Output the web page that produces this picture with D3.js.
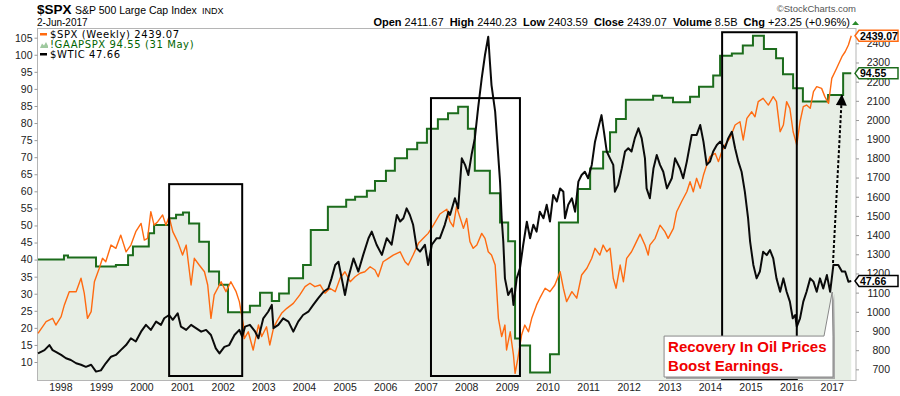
<!DOCTYPE html>
<html><head><meta charset="utf-8">
<script src="https://cdn.jsdelivr.net/npm/d3@7"></script>
<style>
body{margin:0;background:#fff;}
svg{display:block;}
</style></head><body>
<svg id="c" width="900" height="396" font-family="'Liberation Sans',Arial,sans-serif"></svg>
<script>
// ---------------- DATA ----------------
const yearTicks = [1998,1999,2000,2001,2002,2003,2004,2005,2006,2007,2008,2009,2010,2011,2012,2013,2014,2015,2016,2017];
const leftTicks = [10,15,20,25,30,35,40,45,50,55,60,65,70,75,80,85,90,95,100,105];
const rightTicks = [700,800,900,1000,1100,1200,1300,1400,1500,1600,1700,1800,1900,2000,2100,2200,2300,2400];

// $SPX weekly close (right axis)
const spx = [[1997.45,888],[1997.65,949],[1997.81,966],[1997.89,931],[1998.02,975],[1998.10,1036],[1998.22,1105],[1998.39,1105],[1998.51,1175],[1998.59,1097],[1998.67,966],[1998.76,1001],[1998.84,1157],[1998.96,1227],[1999.04,1279],[1999.12,1261],[1999.25,1348],[1999.37,1331],[1999.49,1400],[1999.62,1313],[1999.74,1348],[1999.86,1418],[1999.99,1461],[2000.07,1374],[2000.15,1383],[2000.23,1522],[2000.31,1452],[2000.40,1470],[2000.52,1505],[2000.60,1452],[2000.68,1496],[2000.77,1418],[2000.89,1366],[2001.01,1296],[2001.10,1348],[2001.22,1140],[2001.30,1279],[2001.42,1244],[2001.55,1209],[2001.63,1140],[2001.71,966],[2001.79,1088],[2001.96,1157],[2002.08,1105],[2002.20,1157],[2002.33,1105],[2002.41,1053],[2002.51,931],[2002.53,860],[2002.63,896],[2002.75,801],[2002.88,931],[2002.96,871],[2003.08,922],[2003.16,827],[2003.25,914],[2003.33,949],[2003.45,992],[2003.58,1018],[2003.74,1044],[2003.90,1088],[2004.03,1131],[2004.15,1149],[2004.27,1131],[2004.40,1140],[2004.52,1097],[2004.64,1123],[2004.77,1105],[2004.89,1175],[2005.01,1209],[2005.14,1157],[2005.26,1183],[2005.38,1201],[2005.50,1209],[2005.63,1235],[2005.75,1218],[2005.83,1183],[2005.95,1261],[2006.08,1279],[2006.20,1296],[2006.37,1313],[2006.49,1261],[2006.57,1244],[2006.69,1296],[2006.82,1357],[2006.94,1383],[2007.06,1409],[2007.19,1452],[2007.35,1510],[2007.52,1535],[2007.60,1470],[2007.68,1444],[2007.76,1548],[2007.84,1496],[2007.93,1435],[2008.01,1487],[2008.09,1366],[2008.17,1331],[2008.26,1348],[2008.38,1409],[2008.46,1383],[2008.54,1313],[2008.62,1296],[2008.71,1244],[2008.79,966],[2008.87,871],[2008.95,931],[2008.99,801],[2009.08,896],[2009.16,775],[2009.20,679],[2009.27,758],[2009.36,879],[2009.44,931],[2009.53,896],[2009.61,966],[2009.73,1036],[2009.81,1071],[2009.94,1123],[2010.06,1105],[2010.18,1140],[2010.31,1209],[2010.39,1123],[2010.47,1053],[2010.60,1105],[2010.72,1071],[2010.84,1192],[2010.97,1227],[2011.09,1279],[2011.17,1331],[2011.29,1296],[2011.37,1348],[2011.46,1313],[2011.54,1331],[2011.62,1175],[2011.69,1123],[2011.79,1244],[2011.87,1157],[2011.95,1279],[2012.07,1313],[2012.15,1348],[2012.28,1405],[2012.40,1348],[2012.48,1296],[2012.52,1348],[2012.65,1383],[2012.77,1452],[2012.89,1418],[2012.97,1383],[2013.10,1435],[2013.18,1522],[2013.30,1574],[2013.43,1626],[2013.51,1678],[2013.59,1626],[2013.67,1696],[2013.76,1644],[2013.84,1713],[2013.92,1765],[2014.00,1809],[2014.13,1826],[2014.21,1783],[2014.29,1835],[2014.37,1870],[2014.49,1904],[2014.62,1974],[2014.74,1991],[2014.82,1896],[2014.91,2009],[2015.03,2043],[2015.11,2017],[2015.19,2096],[2015.31,2113],[2015.44,2078],[2015.56,2122],[2015.64,2096],[2015.73,1939],[2015.81,1974],[2015.89,2096],[2015.97,2061],[2016.05,1939],[2016.14,1870],[2016.22,1991],[2016.30,2070],[2016.38,2078],[2016.47,2061],[2016.55,2148],[2016.63,2174],[2016.75,2165],[2016.83,2122],[2016.92,2087],[2017.00,2217],[2017.12,2270],[2017.25,2330],[2017.33,2356],[2017.41,2391],[2017.48,2439.07]];

// !GAAPSPX trailing EPS (left axis, step)
const gaap = [[1997.45,40.0],[1998.09,41.2],[1998.19,40.6],[1998.88,38.0],[1999.37,38.4],[1999.67,41.3],[1999.79,43.8],[2000.18,47.7],[2000.31,50.1],[2000.68,52.1],[2000.85,53.1],[2001.02,53.8],[2001.17,50.6],[2001.42,45.2],[2001.66,36.5],[2001.91,32.6],[2002.13,24.6],[2002.67,26.5],[2002.92,30.3],[2003.21,27.9],[2003.39,30.1],[2003.63,34.5],[2003.98,38.4],[2004.17,48.7],[2004.59,55.5],[2005.04,57.5],[2005.26,58.4],[2005.55,60.2],[2005.75,63.0],[2006.02,66.0],[2006.24,69.7],[2006.54,72.3],[2006.79,74.2],[2007.03,78.3],[2007.30,81.1],[2007.55,82.9],[2007.80,84.8],[2008.04,78.3],[2008.21,66.0],[2008.58,59.4],[2008.83,50.9],[2009.03,45.4],[2009.20,16.9],[2009.32,14.8],[2009.57,6.9],[2010.06,12.3],[2010.28,50.9],[2010.75,60.7],[2011.05,66.7],[2011.37,71.6],[2011.54,77.3],[2011.69,81.2],[2011.93,86.8],[2012.60,88.0],[2012.82,87.4],[2013.09,86.1],[2013.51,87.7],[2013.73,90.6],[2014.08,93.9],[2014.25,99.7],[2014.54,100.4],[2014.81,102.7],[2015.06,105.6],[2015.33,101.7],[2015.63,99.0],[2015.80,94.3],[2016.05,90.2],[2016.29,86.3],[2016.91,88.2],[2017.28,94.55],[2017.48,94.55]];

// $WTIC crude oil (own hidden scale)
const wtic = [[1997.45,19.0],[1997.61,20.3],[1997.73,22.3],[1997.81,20.3],[1997.89,19.6],[1998.02,18.4],[1998.14,17.1],[1998.26,16.4],[1998.39,15.1],[1998.51,14.5],[1998.63,13.7],[1998.76,14.5],[1998.88,11.8],[1999.00,12.3],[1999.12,15.1],[1999.25,17.7],[1999.37,18.4],[1999.49,20.3],[1999.62,22.3],[1999.74,25.0],[1999.86,23.7],[1999.99,27.6],[2000.11,30.3],[2000.23,28.3],[2000.36,31.6],[2000.48,30.3],[2000.56,32.9],[2000.68,34.2],[2000.77,32.3],[2000.89,34.9],[2000.97,29.6],[2001.10,28.3],[2001.22,30.3],[2001.34,29.0],[2001.47,27.6],[2001.59,28.3],[2001.71,26.3],[2001.83,21.0],[2001.92,19.0],[2002.04,21.6],[2002.16,22.3],[2002.29,26.3],[2002.41,28.3],[2002.48,25.6],[2002.55,29.6],[2002.67,30.3],[2002.80,27.6],[2002.88,25.0],[2003.00,32.9],[2003.12,35.5],[2003.21,38.2],[2003.25,29.0],[2003.37,30.3],[2003.49,32.9],[2003.62,31.6],[2003.74,27.6],[2003.86,31.6],[2003.98,34.2],[2004.11,35.5],[2004.23,38.2],[2004.35,40.8],[2004.48,43.4],[2004.60,44.7],[2004.68,48.7],[2004.77,54.0],[2004.85,55.3],[2004.93,48.7],[2005.01,42.1],[2005.09,48.7],[2005.22,56.6],[2005.34,51.4],[2005.46,58.0],[2005.59,64.6],[2005.67,67.2],[2005.79,62.0],[2005.92,58.0],[2006.04,64.6],[2006.16,62.0],[2006.29,73.8],[2006.37,71.2],[2006.45,72.5],[2006.53,76.4],[2006.61,73.8],[2006.69,69.9],[2006.78,60.6],[2006.86,59.3],[2006.98,62.0],[2007.06,54.0],[2007.15,62.0],[2007.27,64.6],[2007.35,64.6],[2007.47,69.9],[2007.56,75.1],[2007.60,73.8],[2007.72,80.4],[2007.80,76.4],[2007.89,96.2],[2007.97,93.6],[2008.05,89.6],[2008.13,97.6],[2008.21,104.1],[2008.29,116.0],[2008.38,127.9],[2008.46,137.1],[2008.54,144.3],[2008.58,134.5],[2008.62,125.2],[2008.71,114.7],[2008.75,105.4],[2008.83,87.0],[2008.87,72.5],[2008.91,63.2],[2008.95,48.7],[2009.03,42.1],[2009.12,44.7],[2009.16,38.2],[2009.24,48.7],[2009.32,52.7],[2009.40,61.9],[2009.49,71.1],[2009.57,64.6],[2009.65,69.9],[2009.73,67.2],[2009.81,75.1],[2009.90,72.5],[2009.98,77.8],[2010.06,71.2],[2010.14,81.7],[2010.23,79.1],[2010.31,84.3],[2010.39,83.0],[2010.43,72.5],[2010.51,77.8],[2010.60,80.4],[2010.68,75.1],[2010.76,87.0],[2010.84,89.6],[2010.92,90.9],[2011.00,88.3],[2011.09,93.6],[2011.17,102.8],[2011.25,108.1],[2011.33,113.3],[2011.39,106.8],[2011.46,98.9],[2011.54,96.2],[2011.62,93.6],[2011.66,83.0],[2011.74,85.7],[2011.83,92.3],[2011.91,98.9],[2011.99,100.2],[2012.07,98.9],[2012.15,104.1],[2012.24,108.1],[2012.32,104.1],[2012.40,96.2],[2012.44,84.3],[2012.52,80.4],[2012.61,92.3],[2012.69,97.5],[2012.77,93.6],[2012.85,90.9],[2012.94,84.3],[2013.06,88.3],[2013.14,96.2],[2013.26,92.3],[2013.34,88.3],[2013.43,94.9],[2013.55,105.4],[2013.67,105.4],[2013.76,109.4],[2013.84,102.8],[2013.92,93.6],[2014.00,94.9],[2014.08,98.9],[2014.17,101.5],[2014.25,102.8],[2014.37,100.2],[2014.45,104.1],[2014.54,106.7],[2014.62,100.2],[2014.70,94.9],[2014.78,90.9],[2014.86,83.0],[2014.94,72.5],[2014.99,63.2],[2015.07,54.0],[2015.15,48.7],[2015.23,51.4],[2015.31,59.2],[2015.40,57.9],[2015.48,59.9],[2015.56,56.6],[2015.64,48.7],[2015.73,43.4],[2015.81,48.7],[2015.89,43.4],[2015.97,39.5],[2016.04,32.9],[2016.10,34.2],[2016.14,29.6],[2016.22,32.9],[2016.30,39.5],[2016.38,43.4],[2016.47,48.7],[2016.55,47.4],[2016.63,43.4],[2016.71,48.7],[2016.79,44.7],[2016.88,50.0],[2016.96,43.4],[2017.04,54.0],[2017.16,54.0],[2017.25,51.4],[2017.33,51.4],[2017.41,47.4],[2017.48,47.66]];

// highlight boxes: [startYear, endYear, top (left axis), bottom (left axis)]
const boxes = [[2000.68,2002.48,62.1,5.9],[2007.13,2009.32,87.3,5.9],[2014.30,2016.14,106.6,5.0]];
// callout: [leftYear, rightYear, top, bottom, pointerYear, pointerValue] (left axis)
const callout = [2012.87,2017.03,17.6,5.6,2017.01,30.5];
const calloutText = ["Recovery In Oil Prices","Boost Earnings."];
// arrow: from WTIC value to EPS value
const arrowFrom = [2017.03,54.8], arrowTo = [2017.25,88.4];

const lastSpx = 2439.07, lastGaap = 94.55, lastWtic = 47.66;

// ---------------- CHART ----------------
const svg = d3.select("#c");
const X0=38, X1=856, Y0=28, Y1=380;
function yd(y){const yr=Math.floor(y);const s=Date.UTC(yr,0,1),e=Date.UTC(yr+1,0,1);return new Date(s+(y-yr)*(e-s));}
const x = d3.scaleUtc().domain([yd(1997.45), yd(2017.597)]).range([X0,X1]);
const yL = d3.scaleLinear().domain([4.73,107.84]).range([Y1,Y0]);
const yR = d3.scaleLinear().domain([644.5,2479.8]).range([Y1,Y0]);
const yW = d3.scaleLinear().domain([8.48,147.78]).range([Y1,Y0]);

const ORANGE="#ff6a10", GREEN="#1c6c1c", FILL="#e7eee5";

svg.append("rect").attr("width",900).attr("height",396).attr("fill","#fff");

// Header
const hdr = svg.append("g");
hdr.append("text").attr("x",37).attr("y",14).attr("font-size",13.5).attr("font-weight","bold").text("$SPX");
hdr.append("text").attr("x",75).attr("y",14).attr("font-size",10.5).text("S&P 500 Large Cap Index");
hdr.append("text").attr("x",202).attr("y",14).attr("font-size",9).text("INDX");
hdr.append("text").attr("x",37).attr("y",26).attr("font-size",10).text("2-Jun-2017");
hdr.append("text").attr("x",856).attr("y",12).attr("font-size",9.5).attr("fill","#555").attr("text-anchor","end").text("\u00A9StockCharts.com");
const stats = hdr.append("text").attr("x",850).attr("y",26).attr("font-size",11).attr("text-anchor","end").style("white-space","pre");
[["Open"," 2411.67  "],["High"," 2440.23  "],["Low"," 2403.59  "],["Close"," 2439.07  "],["Volume"," 8.5B  "],["Chg"," +23.25 (+0.96%)"]].forEach(([a,b])=>{
  stats.append("tspan").attr("font-weight","bold").text(a);
  stats.append("tspan").text(b);
});
hdr.append("path").attr("d","M852,25 L855.5,21 L859,25 Z").attr("fill","#2a8a2a");

// Area fill of EPS
const area = d3.area().curve(d3.curveStepAfter).x(d=>x(yd(d[0]))).y0(Y1).y1(d=>yL(d[1]));
svg.append("path").datum(gaap).attr("d",area).attr("fill",FILL);

// frame
svg.append("rect").attr("x",X0-0.5).attr("y",Y0+0.5).attr("width",X1-X0+0.5).attr("height",Y1-Y0).attr("fill","none").attr("stroke","#b5b5b5").attr("stroke-width",1);

// axes
const axL = svg.append("g").attr("transform",`translate(${X0-0.5},0)`).call(d3.axisLeft(yL).tickValues(leftTicks).tickSize(3).tickPadding(2));
const axR = svg.append("g").attr("transform",`translate(${X1},0)`).call(d3.axisRight(yR).tickValues(rightTicks).tickFormat(d3.format("d")).tickSize(3).tickPadding(2));
const axB = svg.append("g").attr("transform",`translate(0,${Y1})`).call(d3.axisBottom(x).tickValues(yearTicks.map(yd)).tickFormat(d3.utcFormat("%Y")).tickSize(0).tickPadding(4));
[axL,axR,axB].forEach(a=>{a.attr("font-family",null).attr("font-size",10.5);a.select(".domain").remove();a.selectAll("line").attr("stroke","#999");a.selectAll("text").attr("fill","#222");});
axR.selectAll("text").attr("text-anchor","end").attr("x",34);

// lines
const line = (ys)=>d3.line().x(d=>x(yd(d[0]))).y(d=>ys(d[1]));
svg.append("path").datum(gaap).attr("d",d3.line().curve(d3.curveStepAfter).x(d=>x(yd(d[0]))).y(d=>yL(d[1]))).attr("fill","none").attr("stroke",GREEN).attr("stroke-width",2);
svg.append("path").datum(spx).attr("d",line(yR)).attr("fill","none").attr("stroke",ORANGE).attr("stroke-width",1.4).attr("stroke-linejoin","round");
svg.append("path").datum(wtic).attr("d",line(yW)).attr("fill","none").attr("stroke","#0a0a0a").attr("stroke-width",2).attr("stroke-linejoin","round");

// boxes
svg.selectAll("rect.box").data(boxes).enter().append("rect").attr("class","box")
  .attr("x",d=>x(yd(d[0]))).attr("y",d=>yL(d[2])).attr("width",d=>x(yd(d[1]))-x(yd(d[0]))).attr("height",d=>yL(d[3])-yL(d[2]))
  .attr("fill","none").attr("stroke","#000").attr("stroke-width",2);

// dashed arrow
svg.append("defs").append("marker").attr("id","ah").attr("viewBox","0 0 10 10").attr("refX",10).attr("refY",5)
  .attr("markerUnits","userSpaceOnUse").attr("markerWidth",12).attr("markerHeight",11).attr("orient","auto")
  .append("path").attr("d","M0,0 L10,5 L0,10 Z").attr("fill","#000");
svg.append("line").attr("x1",x(yd(arrowFrom[0]))).attr("y1",yW(arrowFrom[1])).attr("x2",x(yd(arrowTo[0]))).attr("y2",yL(arrowTo[1]))
  .attr("stroke","#000").attr("stroke-width",2).attr("stroke-dasharray","3,2").attr("marker-end","url(#ah)");

// callout
const cl=x(yd(callout[0])), cr=x(yd(callout[1])), ct=yL(callout[2]), cb=yL(callout[3]), px=x(yd(callout[4])), py=yL(callout[5]);
const cpath = `M${cl},${ct} L${cr-9},${ct} L${px},${py} L${cr},${ct} L${cr},${cb} L${cl},${cb} Z`;
svg.append("path").attr("d",cpath).attr("transform","translate(2,2)").attr("fill","#a8a8a8");
svg.append("path").attr("d",cpath).attr("fill","#fff").attr("stroke","#888").attr("stroke-width",1);
calloutText.forEach((t,i)=>svg.append("text").attr("x",cl+4).attr("y",ct+16+i*19).attr("font-size",15).attr("font-weight","bold").attr("fill","#f00000").text(t));

// legend
const lg = svg.append("g").style("font-family","'DejaVu Sans',Verdana,sans-serif").style("font-size","10px").style("letter-spacing","0.6px");
lg.append("rect").attr("x",40).attr("y",33).attr("width",7).attr("height",2.5).attr("fill",ORANGE);
lg.append("text").attr("x",50).attr("y",38).attr("fill","#000").text("$SPX (Weekly) 2439.07");
lg.append("path").attr("d","M40,48 L42,43.5 L44,45.5 L46,42 L48,46 L48,48 Z").attr("fill","#9fc99f");
lg.append("text").attr("x",50).attr("y",48).attr("fill","#006400").text("!GAAPSPX 94.55 (31 May)");
lg.append("rect").attr("x",40).attr("y",53).attr("width",7).attr("height",2.5).attr("fill","#000");
lg.append("text").attr("x",50).attr("y",58).attr("fill","#000").text("$WTIC 47.66");

// last value tags
[[yR(lastSpx),ORANGE,"2439.07"],[yL(lastGaap),GREEN,"94.55"],[yW(lastWtic),"#000","47.66"]].forEach(([yy,c,t])=>{
  svg.append("path").attr("d",`M855,${yy} L859,${yy-5.5} L898,${yy-5.5} L898,${yy+5.5} L859,${yy+5.5} Z`).attr("fill","#fff").attr("stroke",c).attr("stroke-width",1.5);
  svg.append("text").attr("x",860).attr("y",yy+4).attr("font-size",10.5).attr("font-weight","bold").attr("fill","#000").text(t);
});
</script>
</body></html>
